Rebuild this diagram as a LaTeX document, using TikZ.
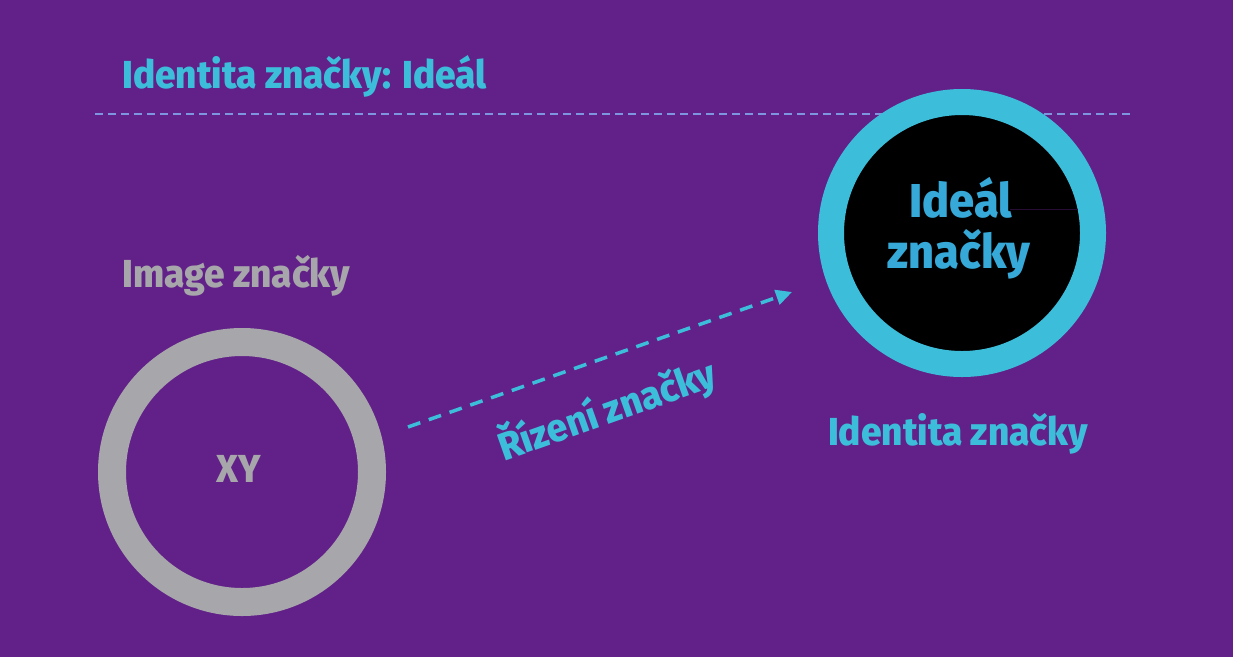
\documentclass[tikz,border=0pt]{standalone}
\usepackage{fontspec}
\setmainfont{Fira Sans ExtraBold}[FakeStretch=0.95]
\usetikzlibrary{arrows.meta}
\definecolor{bg}{RGB}{98,33,136}
\definecolor{cyanc}{RGB}{60,190,219}
\definecolor{innerblue}{RGB}{54,169,217}
\definecolor{greyc}{RGB}{167,167,171}
\definecolor{dashc}{RGB}{125,150,222}
\tikzset{
  lbl/.style={inner sep=0pt, font=\fontsize{39}{39}\selectfont},
  biglbl/.style={inner sep=0pt, font=\fontsize{47.5}{47.5}\selectfont},
}
\begin{document}
\begin{tikzpicture}[x=1pt,y=-1pt]
\fill[bg] (0,0) rectangle (1233,657);
\useasboundingbox (0,0) rectangle (1233,657);
% title
\node[lbl, text=cyanc, anchor=base west] (title) at (122,88) {Identita značky: Ideál};
\coordinate (dl) at (95,114);
\coordinate (dr) at (1130,114);
\draw[dashc, line width=1.5pt, dash pattern=on 8pt off 5pt] (dl) -- (dr);
% right circle
\node[circle, draw=cyanc, line width=26pt, fill=black, minimum size=262pt, inner sep=0pt] (ideal) at (962,233) {};
\draw[black!60!bg, line width=0.6pt] (1010,209) -- (1078,209);
\node[biglbl, text=innerblue, anchor=base] (t1) at (961,217) {Ideál};
\node[biglbl, text=innerblue, anchor=base] (t2) at (959,268) {značky};
\node[lbl, text=cyanc, anchor=base] (idlabel) at (958,445) {Identita značky};
% left circle
\node[circle, draw=greyc, line width=28pt, minimum size=260pt, inner sep=0pt] (image) at (242,472) {};
\node[lbl, text=greyc, anchor=base] (xy) at (239,482) {XY};
\node[lbl, text=greyc, anchor=base west] (imlabel) at (122,287) {Image značky};
% arrow
\coordinate (as) at (408,427);
\coordinate (ae) at (792,292);
\draw[cyanc, line width=3.5pt, dash pattern=on 13pt off 9pt, -{Triangle[length=16pt,width=15pt]}] (as) -- (ae);
\node[lbl, text=cyanc, rotate=19.5] (rizeni) at (607,410) {Řízení značky};
\end{tikzpicture}
\end{document}
